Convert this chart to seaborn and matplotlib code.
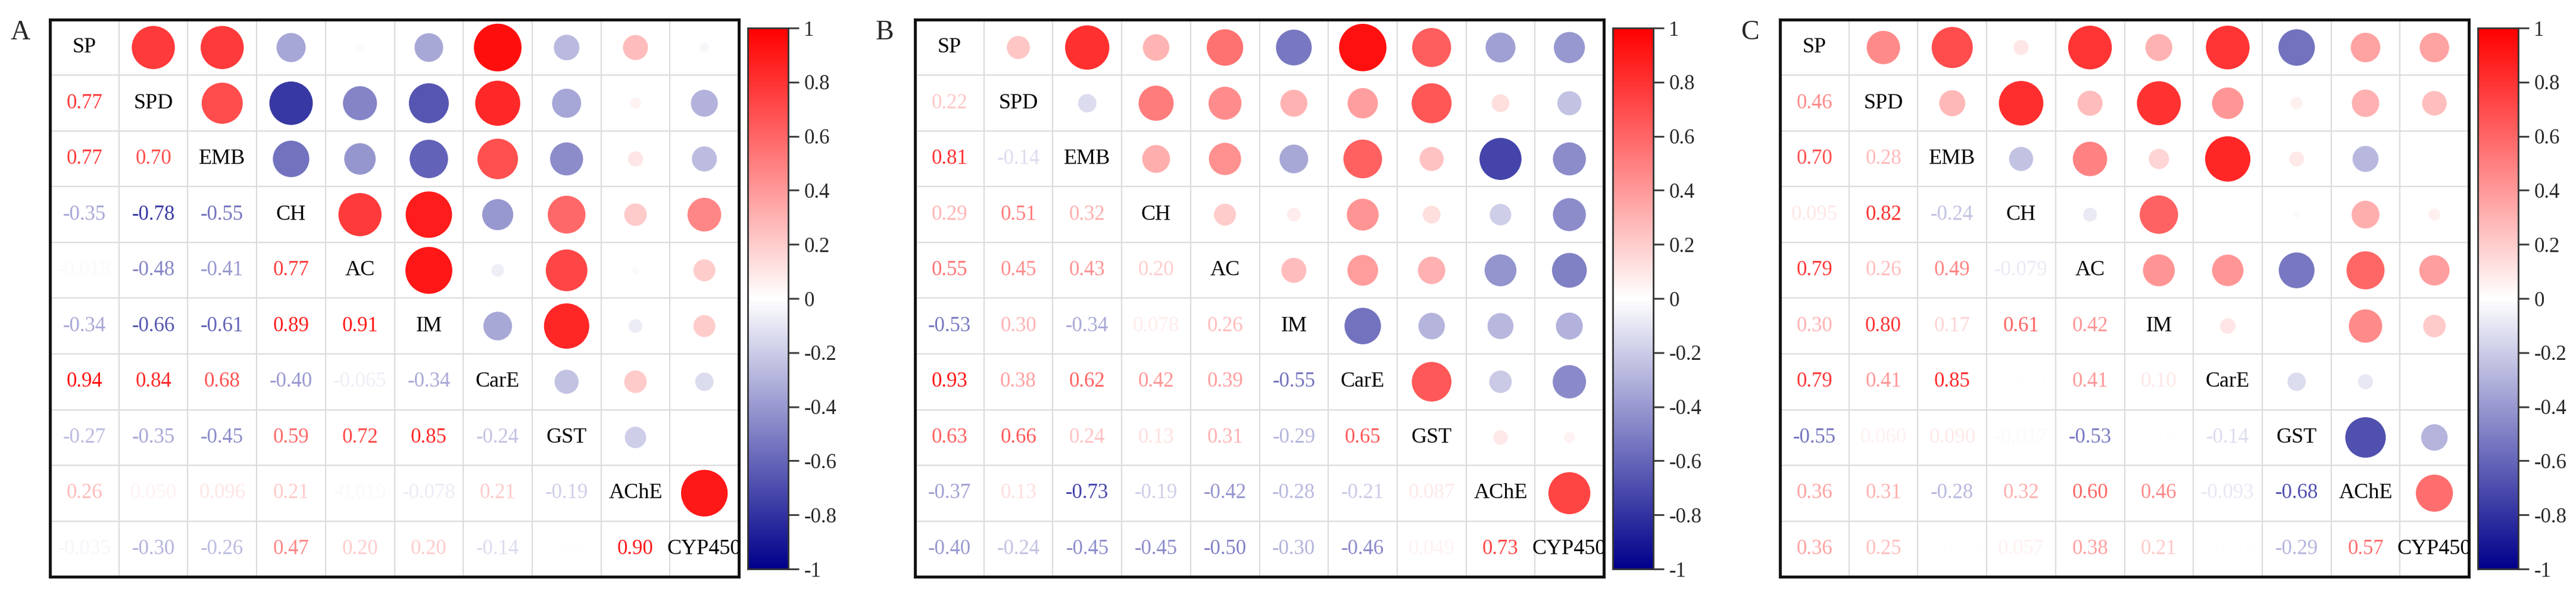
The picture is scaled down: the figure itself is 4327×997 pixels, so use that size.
import numpy as np
import pandas as pd
import seaborn as sns
import matplotlib.pyplot as plt
from matplotlib.colors import LinearSegmentedColormap, Normalize
from matplotlib.cm import ScalarMappable

sns.set_style("white")
plt.rcParams['font.family'] = ['Liberation Serif', 'DejaVu Serif']

names = ["SP", "SPD", "EMB", "CH", "AC", "IM", "CarE", "GST", "AChE", "CYP450"]

# lower triangle rows (row i holds r with columns 0..i-1)
lower_A = [
    [],
    [0.77],
    [0.77, 0.70],
    [-0.35, -0.78, -0.55],
    [-0.018, -0.48, -0.41, 0.77],
    [-0.34, -0.66, -0.61, 0.89, 0.91],
    [0.94, 0.84, 0.68, -0.40, -0.065, -0.34],
    [-0.27, -0.35, -0.45, 0.59, 0.72, 0.85, -0.24],
    [0.26, 0.050, 0.096, 0.21, -0.019, -0.078, 0.21, -0.19],
    [-0.035, -0.30, -0.26, 0.47, 0.20, 0.20, -0.14, 0.0040, 0.90],
]
lower_B = [
    [],
    [0.22],
    [0.81, -0.14],
    [0.29, 0.51, 0.32],
    [0.55, 0.45, 0.43, 0.20],
    [-0.53, 0.30, -0.34, 0.078, 0.26],
    [0.93, 0.38, 0.62, 0.42, 0.39, -0.55],
    [0.63, 0.66, 0.24, 0.13, 0.31, -0.29, 0.65],
    [-0.37, 0.13, -0.73, -0.19, -0.42, -0.28, -0.21, 0.087],
    [-0.40, -0.24, -0.45, -0.45, -0.50, -0.30, -0.46, 0.049, 0.73],
]
lower_C = [
    [],
    [0.46],
    [0.70, 0.28],
    [0.095, 0.82, -0.24],
    [0.79, 0.26, 0.49, -0.079],
    [0.30, 0.80, 0.17, 0.61, 0.42],
    [0.79, 0.41, 0.85, 0.0031, 0.41, 0.10],
    [-0.55, 0.060, 0.090, -0.017, -0.53, -0.0042, -0.14],
    [0.36, 0.31, -0.28, 0.32, 0.60, 0.46, -0.093, -0.68],
    [0.36, 0.25, -0.0074, 0.057, 0.38, 0.21, 0.0018, -0.29, 0.57],
]
panels = ["A", "B", "C"]
lowers = [lower_A, lower_B, lower_C]
cbar_ticks = [-1, -0.8, -0.6, -0.4, -0.2, 0, 0.2, 0.4, 0.6, 0.8, 1]

cmap = LinearSegmentedColormap.from_list("bwr2", ["#00008B", "#FFFFFF", "#FF0000"])
norm = Normalize(-1, 1)

W, H = 4327, 997
fig = plt.figure(figsize=(W / 100, H / 100), dpi=100)


def px_axes(x0, y0, x1, y1):
    return fig.add_axes([x0 / W, 1 - y1 / H, (x1 - x0) / W, (y1 - y0) / H])


box_left = [84, 1537, 2990]
n = len(names)

for k, (lab, low) in enumerate(zip(panels, lowers)):
    x0 = box_left[k]
    ax = px_axes(x0, 33, x0 + 1157, 968)
    cax = px_axes(x0 + 1172, 47, x0 + 1240, 955)

    rows = []
    for i in range(n):
        for j in range(i):
            rows.append({"row": j, "col": i, "r": low[i][j], "a": abs(low[i][j])})
    df = pd.DataFrame(rows)

    for g in np.arange(0.5, n - 0.5, 1):
        ax.axhline(g, color="#DCDCDC", lw=1.6, zorder=0)
        ax.axvline(g, color="#DCDCDC", lw=1.6, zorder=0)

    sns.scatterplot(data=df, x="col", y="row", hue="r", size="a",
                    palette=cmap, hue_norm=(-1, 1), sizes=(0, 3530),
                    size_norm=(0, 1), linewidth=0, legend=False, ax=ax, zorder=2)

    for i in range(n):
        ax.text(i, i, names[i], ha="center", va="center", fontsize=26,
                color="black", clip_on=True)
        for j in range(i):
            r = low[i][j]
            ax.text(j, i, f"{r:#.2g}", ha="center", va="center", fontsize=25,
                    color=cmap(norm(r)), clip_on=True)

    ax.set_xlim(-0.5, n - 0.5)
    ax.set_ylim(n - 0.5, -0.5)
    ax.set_xticks([])
    ax.set_yticks([])
    ax.set_xlabel("")
    ax.set_ylabel("")
    for s in ax.spines.values():
        s.set_visible(True)
        s.set_color("#111111")
        s.set_linewidth(3.5)

    sm = ScalarMappable(norm=norm, cmap=cmap)
    cb = fig.colorbar(sm, cax=cax, ticks=cbar_ticks)
    cb.ax.set_yticklabels([f"{v:g}" for v in cbar_ticks])
    cb.ax.tick_params(labelsize=25, length=13, width=2.2, color="#444444", pad=6)
    cb.outline.set_linewidth(2)
    cb.outline.set_edgecolor("#333333")

    fig.text((x0 - 66) / W, 1 - 33 / H, lab, fontsize=33, ha="left", va="top")

fig.savefig("out.png", dpi=100, facecolor="white")
